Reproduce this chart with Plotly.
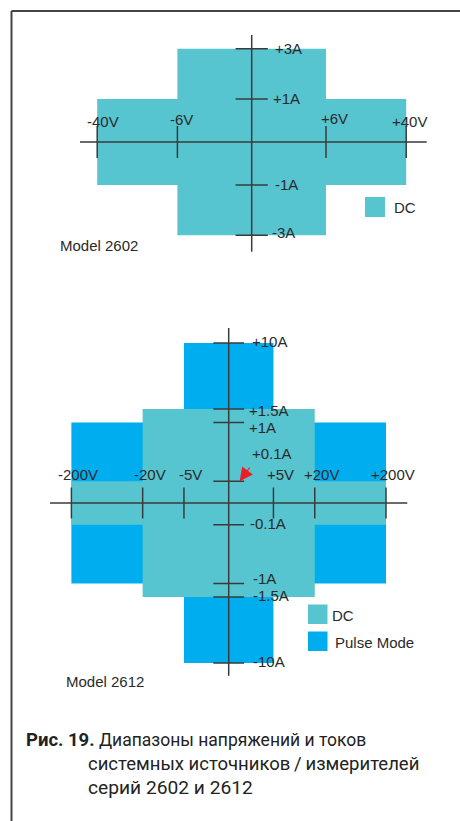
import numpy as np
import plotly.graph_objects as go

# ---------------- data ----------------
# Model 2602 (DC only): rectangles given as (voltage limit, current limit)
M2602_DC_V = [6, 40]
M2602_DC_I = [3, 1]
M2602_V_TICKS = [-40, -6, 6, 40]
M2602_V_LABELS = ["-40V", "-6V", "+6V", "+40V"]
M2602_I_TICKS = [3, 1, -1, -3]
M2602_I_LABELS = ["+3A", "+1A", "-1A", "-3A"]

# Model 2612
M2612_PULSE_V = [5, 200]
M2612_PULSE_I = [10, 1]
M2612_DC_V = [20, 200]
M2612_DC_I = [1.5, 0.1]
M2612_V_TICKS = [-200, -20, -5, 5, 20, 200]
M2612_V_LABELS = ["-200V", "-20V", "-5V", "+5V", "+20V", "+200V"]
M2612_I_TICKS = [10, 1.5, 1, 0.1, -0.1, -1, -1.5, -10]
M2612_I_LABELS = ["+10A", "+1.5A", "+1A", "+0.1A", "-0.1A", "-1A", "-1.5A", "-10A"]

CAPTION_BOLD = "Рис. 19."
CAPTION_LINES = ["Диапазоны напряжений и токов",
                 "системных источников\u2009/\u2009измерителей",
                 "серий 2602 и 2612"]

# ---------------- styling / scales ----------------
W, H = 460, 821
DC_COLOR = "#56c5d0"
PULSE_COLOR = "#00aeef"
AX_COLOR = "#3a3a3a"
TXT = "#2a2a2a"
FONT = "Arial, Liberation Sans, sans-serif"
FS = 15


def symlog_asinh(c):
    """schematic symmetric scale (asinh)"""
    return lambda v: np.arcsinh(np.asarray(v, dtype=float) / c)


def symlog_log1p(c):
    """schematic symmetric-log scale: sign(v)*log10(1+|v|/c)"""
    def f(v):
        v = np.asarray(v, dtype=float)
        return np.sign(v) * np.log10(1 + np.abs(v) / c)
    return f


f_v1, f_i1 = symlog_asinh(2.2), symlog_asinh(1.2)
f_v2, f_i2 = symlog_asinh(2.5), symlog_log1p(0.12)


def px_x(p):
    return p / W


def px_y(p):
    return 1 - p / H


def axis_setup(dom_x, dom_y, cx, cy, sx, sy):
    xr = [(dom_x[0] - cx) / sx, (dom_x[1] - cx) / sx]
    yr = [-(dom_y[1] - cy) / sy, (cy - dom_y[0]) / sy]
    xd = [px_x(dom_x[0]), px_x(dom_x[1])]
    yd = [px_y(dom_y[1]), px_y(dom_y[0])]
    common = dict(showgrid=False, zeroline=False, showline=False,
                  showticklabels=False, ticks="", fixedrange=True)
    return dict(domain=xd, range=xr, **common), dict(domain=yd, range=yr, **common)


# subplot 1 geometry (pixels)
X1, Y1 = axis_setup((80, 426.7), (35, 251.7), 251.7, 142,
                    154.5 / float(f_v1(40)), 93.2 / float(f_i1(3)))
# subplot 2 geometry
X2, Y2 = axis_setup((50, 407.3), (328, 675.7), 228.7, 503,
                    157.3 / float(f_v2(200)), 160 / float(f_i2(10)))

fig = go.Figure()


def rect(v, i, fv, fi, color, xa, ya):
    xs = fv([-v, v, v, -v, -v])
    ys = fi([-i, -i, i, i, -i])
    fig.add_trace(go.Scatter(x=xs, y=ys, fill="toself", fillcolor=color,
                             mode="lines", line=dict(width=0),
                             hoverinfo="skip", showlegend=False,
                             xaxis=xa, yaxis=ya))


# --- Model 2602 ---
for v, i in zip(M2602_DC_V, M2602_DC_I):
    rect(v, i, f_v1, f_i1, DC_COLOR, "x", "y")
# --- Model 2612 ---
for v, i in zip(M2612_PULSE_V, M2612_PULSE_I):
    rect(v, i, f_v2, f_i2, PULSE_COLOR, "x2", "y2")
for v, i in zip(M2612_DC_V, M2612_DC_I):
    rect(v, i, f_v2, f_i2, DC_COLOR, "x2", "y2")


def tick_marks(vt, it, fv, fi, xa, ya, size):
    fig.add_trace(go.Scatter(x=fv(vt), y=np.zeros(len(vt)), mode="markers",
                             marker=dict(symbol="line-ns", size=size,
                                         line=dict(width=1.5, color=AX_COLOR)),
                             hoverinfo="skip", showlegend=False, xaxis=xa, yaxis=ya))
    fig.add_trace(go.Scatter(x=np.zeros(len(it)), y=fi(it), mode="markers",
                             marker=dict(symbol="line-ew", size=size,
                                         line=dict(width=1.5, color=AX_COLOR)),
                             hoverinfo="skip", showlegend=False, xaxis=xa, yaxis=ya))


tick_marks(M2602_V_TICKS, M2602_I_TICKS, f_v1, f_i1, "x", "y", 23)
tick_marks(M2612_V_TICKS, M2612_I_TICKS, f_v2, f_i2, "x2", "y2", 22)

shapes = []
for xr_, yr_ in (("x", "y"), ("x2", "y2")):
    shapes.append(dict(type="line", xref=f"{xr_} domain", yref=yr_, x0=0, x1=1, y0=0, y1=0,
                       line=dict(color=AX_COLOR, width=1.5), layer="above"))
    shapes.append(dict(type="line", xref=xr_, yref=f"{yr_} domain", x0=0, x1=0, y0=0, y1=1,
                       line=dict(color=AX_COLOR, width=1.5), layer="above"))

# frame
shapes.append(dict(type="line", xref="paper", yref="paper", x0=px_x(11.5), x1=1.0,
                   y0=px_y(11), y1=px_y(11), line=dict(color="#444", width=2)))
shapes.append(dict(type="line", xref="paper", yref="paper", x0=px_x(11.5), x1=px_x(11.5),
                   y0=px_y(11), y1=0, line=dict(color="#444", width=2)))


# legend swatches
def swatch(x0, y0, size, color):
    shapes.append(dict(type="rect", xref="paper", yref="paper",
                       x0=px_x(x0), x1=px_x(x0 + size), y0=px_y(y0 + size), y1=px_y(y0),
                       fillcolor=color, line=dict(width=0)))


swatch(365, 197, 20, DC_COLOR)
swatch(308, 604.5, 19.5, DC_COLOR)
swatch(308, 631.5, 19.5, PULSE_COLOR)

ann = []
font = dict(family=FONT, size=FS, color=TXT)


def label(x, y, text, xa, ya, xanchor="center", xshift=0, yshift=0):
    ann.append(dict(x=x, y=y, xref=xa, yref=ya, text=text, showarrow=False,
                    xanchor=xanchor, yanchor="middle", xshift=xshift, yshift=yshift,
                    font=font))


# label offsets (pixels) - styling only
V1_SHIFT = {"-40V": (6, 20), "-6V": (4, 22), "+6V": (8, 23), "+40V": (3, 20)}
I1_SHIFT = {"+3A": (21, 0), "+1A": (19, 1), "-1A": (21, 0), "-3A": (18, 3)}
I2_SHIFT = {"+10A": (21, 1), "+1.5A": (18, -1), "+1A": (18, -5), "+0.1A": (21, 28),
            "-0.1A": (19, 1), "-1A": (22, 5), "-1.5A": (22, 1), "-10A": (22, 2)}

for v, t in zip(M2602_V_TICKS, M2602_V_LABELS):
    xs, ys = V1_SHIFT[t]
    label(float(f_v1(v)), 0, t, "x", "y", xshift=xs, yshift=ys)
for i, t in zip(M2602_I_TICKS, M2602_I_LABELS):
    xs, ys = I1_SHIFT[t]
    label(0, float(f_i1(i)), t, "x", "y", xanchor="left", xshift=xs, yshift=ys)

for v, t in zip(M2612_V_TICKS, M2612_V_LABELS):
    label(float(f_v2(v)), 0, t, "x2", "y2", xshift=7, yshift=28)
for i, t in zip(M2612_I_TICKS, M2612_I_LABELS):
    xs, ys = I2_SHIFT[t]
    label(0, float(f_i2(i)), t, "x2", "y2", xanchor="left", xshift=xs, yshift=ys)

# red arrow to +0.1A tick
ann.append(dict(x=0, y=float(f_i2(0.1)), xref="x2", yref="y2", text="", showarrow=True,
                xshift=11, ax=11, ay=-15, arrowhead=2, arrowsize=2.4, arrowwidth=1.1,
                arrowcolor="#ee1c25", standoff=0))


def plabel(x, y, text, size=FS, family=FONT, color=TXT):
    ann.append(dict(x=px_x(x), y=px_y(y), xref="paper", yref="paper", text=text,
                    showarrow=False, xanchor="left", yanchor="middle",
                    font=dict(family=family, size=size, color=color)))


plabel(392, 208, "DC")
plabel(330, 615, "DC")
plabel(333, 642.5, "Pulse Mode")
plabel(58, 245, "Model 2602")
plabel(64, 681.5, "Model 2612")

CAP_FONT = "Roboto, Noto Sans, sans-serif"
plabel(24, 740, f"<span style='font-size:18.5px'><b>{CAPTION_BOLD}</b></span> {CAPTION_LINES[0]}",
       size=17.5, family=CAP_FONT, color="#222")
plabel(86, 763.5, CAPTION_LINES[1], size=18.5, family=CAP_FONT, color="#222")
plabel(86, 787.5, CAPTION_LINES[2], size=19.2, family=CAP_FONT, color="#222")

fig.update_layout(width=W, height=H, margin=dict(l=0, r=0, t=0, b=0),
                  paper_bgcolor="white", plot_bgcolor="rgba(0,0,0,0)",
                  showlegend=False, xaxis=X1, yaxis=Y1,
                  xaxis2=dict(X2, anchor="y2"), yaxis2=dict(Y2, anchor="x2"),
                  shapes=shapes, annotations=ann)
fig.write_html("out.html", config={"displayModeBar": False},
               post_script="document.body.style.margin='0';")
